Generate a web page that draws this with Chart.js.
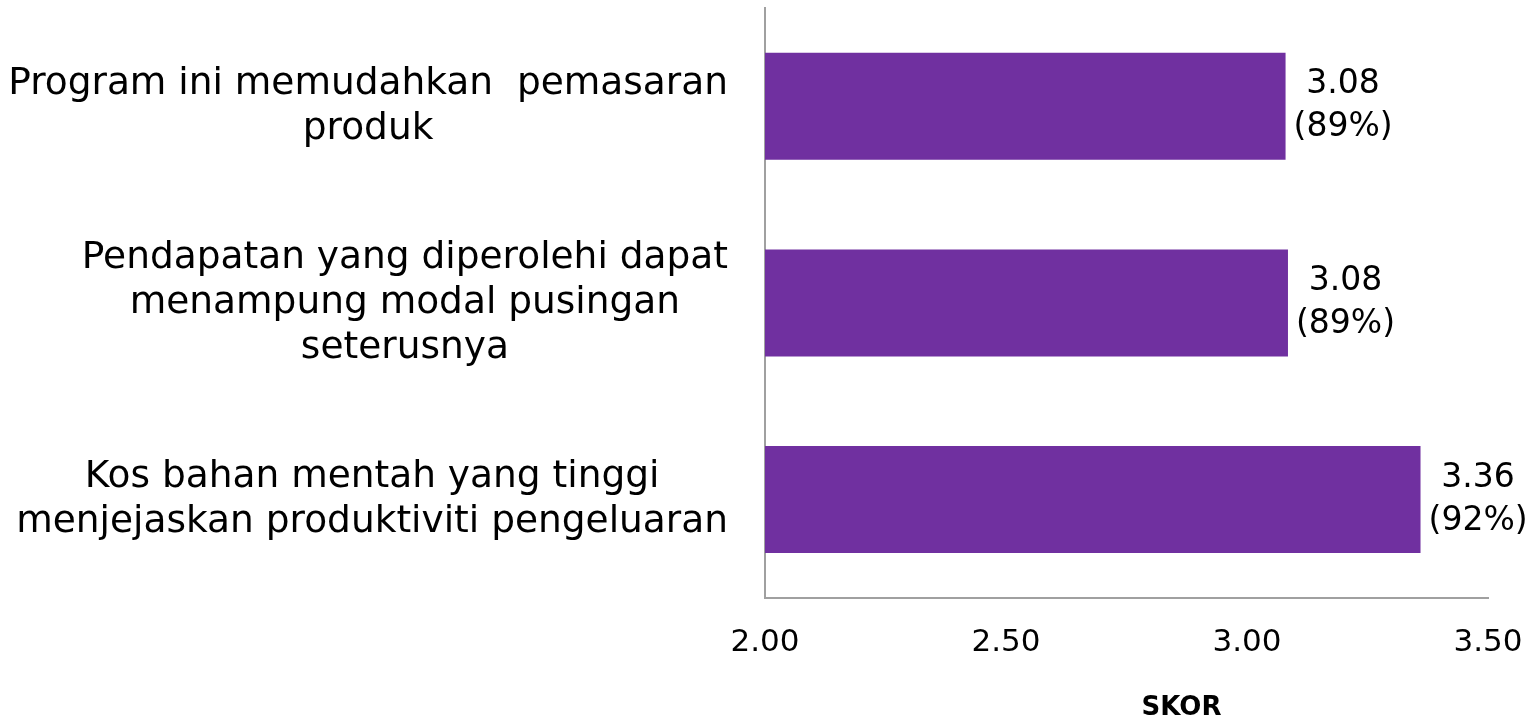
<!DOCTYPE html>
<html>
<head>
<meta charset="utf-8">
<script src="https://cdn.jsdelivr.net/npm/chart.js@4/dist/chart.umd.min.js"></script>
<style>
  html, body { margin: 0; padding: 0; background: #fff; }
  #wrap { width: 1534px; height: 719px; }
</style>
</head>
<body>
<div id="wrap"><canvas id="skor-chart"></canvas></div>
<script>
const categories = [
    ["Program ini memudahkan  pemasaran", "produk"],
    ["Pendapatan yang diperolehi dapat", "menampung modal pusingan", "seterusnya"],
    ["Kos bahan mentah yang tinggi", "menjejaskan produktiviti pengeluaran"]
];
const scores = [3.08, 3.085, 3.36];
const scoreLabels = ["3.08", "3.08", "3.36"];
const percents = ["89%", "89%", "92%"];
const xTicks = [2.0, 2.5, 3.0, 3.5];
const axisTitle = "SKOR";

const FONT = "'DejaVu Sans', Verdana, sans-serif";

// category labels, value labels and the axis title drawn on the canvas
const labelPlugin = {
    id: "labelPlugin",
    afterDraw(chart) {
        const ctx = chart.ctx;
        const area = chart.chartArea;
        const yScale = chart.scales.y;
        const xScale = chart.scales.x;
        const bars = chart.getDatasetMeta(0).data;
        ctx.save();
        ctx.fillStyle = "#000";
        ctx.textBaseline = "middle";

        // y category labels: block right-aligned, lines centred in it
        ctx.font = "37.5px " + FONT;
        categories.forEach((lines, i) => {
            const cy = yScale.getPixelForTick(i);
            const widest = Math.max(...lines.map(l => ctx.measureText(l).width));
            const cx = area.left - 37 - widest / 2;
            const lh = 45;
            ctx.textAlign = "center";
            lines.forEach((line, j) => {
                ctx.fillText(line, cx, cy + (j - (lines.length - 1) / 2) * lh);
            });
        });

        // value labels next to each bar
        ctx.font = "33px " + FONT;
        bars.forEach((bar, i) => {
            const lines = [scoreLabels[i], "(" + percents[i] + ")"];
            const widest = Math.max(...lines.map(l => ctx.measureText(l).width));
            const cx = bar.x + 8 + widest / 2;
            ctx.textAlign = "center";
            lines.forEach((line, j) => {
                ctx.fillText(line, cx, bar.y + (j - 0.5) * 43);
            });
        });

        // axis title
        ctx.font = "bold 26px " + FONT;
        ctx.textAlign = "center";
        ctx.fillText(axisTitle, (xScale.left + xScale.right) / 2 + 55, 708);
        ctx.restore();
    }
};

new Chart(document.getElementById("skor-chart").getContext("2d"), {
    type: "bar",
    data: {
        labels: categories,
        datasets: [{
            label: axisTitle,
            data: scores,
            backgroundColor: "#7030A0",
            borderWidth: 0,
            barPercentage: 0.544,
            categoryPercentage: 1
        }]
    },
    options: {
        indexAxis: "y",
        responsive: true,
        maintainAspectRatio: false,
        animation: false,
        layout: {
            padding: { left: 757, right: 46, top: 8, bottom: 38 }
        },
        plugins: {
            legend: { display: false },
            tooltip: { enabled: false }
        },
        scales: {
            x: {
                min: 2,
                max: 3.5,
                afterBuildTicks: scale => {
                    scale.ticks = xTicks.map(v => ({ value: v }));
                },
                afterFit: scale => {
                    // there is room for the end labels, don't let them squeeze the plot
                    scale.paddingLeft = 0;
                    scale.paddingRight = 0;
                },
                grid: { display: false },
                border: { display: true, color: "#a0a0a0", width: 2 },
                ticks: {
                    color: "#000",
                    padding: 19,
                    maxRotation: 0,
                    font: { family: FONT, size: 31 },
                    callback: value => Number(value).toFixed(2)
                }
            },
            y: {
                grid: { display: false },
                border: { display: true, color: "#a0a0a0", width: 2 },
                ticks: { display: false }
            }
        }
    },
    plugins: [labelPlugin]
});
</script>
</body>
</html>
